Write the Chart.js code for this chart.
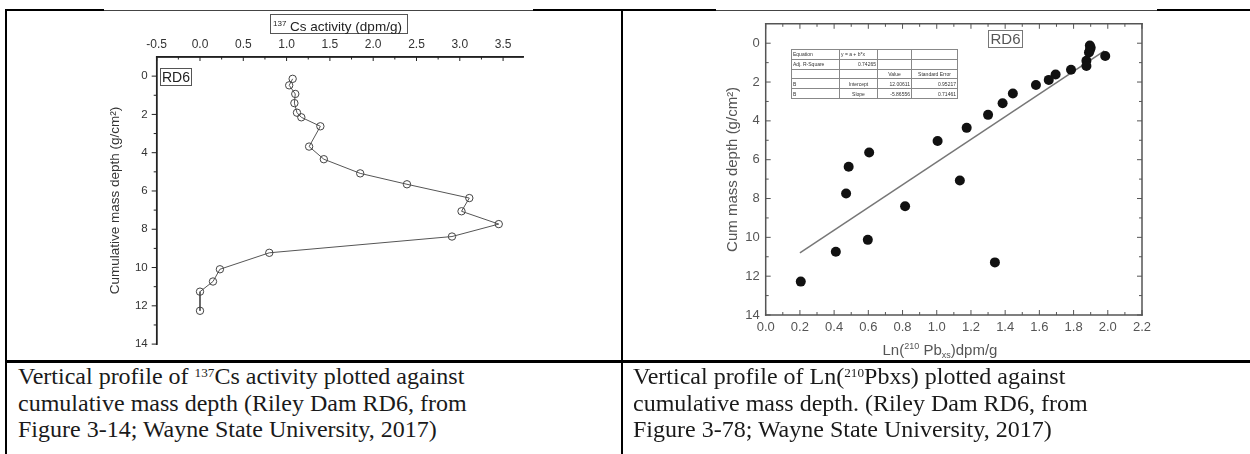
<!DOCTYPE html>
<html>
<head>
<meta charset="utf-8">
<script src="https://cdn.jsdelivr.net/npm/chart.js@4.4.0/dist/chart.umd.min.js"></script>
<style>
  body { margin:0; background:#fff; width:1250px; height:454px; overflow:hidden; position:relative; font-family:"Liberation Sans", Arial, sans-serif; }
  .ln { position:absolute; background:#000; }
  .thin { background:#444; }
  canvas { position:absolute; }
  .box { position:absolute; border:1px solid #555; box-sizing:border-box; text-align:center; white-space:nowrap; }
  .cap { position:absolute; font-family:"Liberation Serif", "Times New Roman", serif; font-size:24px; line-height:26.5px; color:#1a1a1a; white-space:nowrap; }
  .cap sup { font-size:0.55em; vertical-align:0.5em; line-height:0; }
  #fit { position:absolute; left:791px; top:49px; border-collapse:collapse; font-size:5px; color:#333; border:1px solid #555; }
  #fit td { border:0.5px solid #888; height:8.8px; padding:0 1px; line-height:8px; white-space:nowrap; }
</style>
</head>
<body>
<!-- table borders -->
<div class="ln" style="left:5px;top:9px;width:99px;height:2px"></div>
<div class="ln thin" style="left:104px;top:10px;width:429px;height:1px"></div>
<div class="ln" style="left:533px;top:9px;width:183px;height:2px"></div>
<div class="ln thin" style="left:716px;top:10px;width:441px;height:1px"></div>
<div class="ln" style="left:1157px;top:9px;width:93px;height:2px"></div>
<div class="ln" style="left:5px;top:9px;width:2px;height:445px"></div>
<div class="ln" style="left:621px;top:9px;width:2px;height:445px"></div>
<div class="ln" style="left:5px;top:360px;width:1245px;height:3px"></div>

<canvas id="cs" width="440" height="360" style="left:100px;top:0px"></canvas>
<canvas id="pb" width="460" height="345" style="left:700px;top:10px"></canvas>

<div class="box" style="left:270px;top:14px;width:138px;height:20px;font-size:13.5px;line-height:18px;color:#222;text-align:left;padding-left:2px"><sup style="font-size:8px;vertical-align:5px">137</sup> Cs activity (dpm/g)</div>
<div class="box" style="left:160px;top:68px;width:32px;height:18px;font-size:14px;line-height:16px;color:#222">RD6</div>
<div class="box" style="left:988px;top:30px;width:35px;height:18px;font-size:15px;line-height:16px;color:#555;border-color:#777">RD6</div>
<div style="position:absolute;left:840px;top:341px;width:200px;text-align:center;font-size:15px;color:#555;white-space:nowrap">Ln(<sup style="font-size:9px;vertical-align:6px">210</sup> Pb<sub style="font-size:9px;vertical-align:-3px">xs</sub>)dpm/g</div>

<table id="fit">
  <tr><td style="width:45px">Equation</td><td style="width:35px">y = a + b*x</td><td style="width:31px"></td><td style="width:43px"></td></tr>
  <tr><td>Adj. R-Square</td><td style="text-align:right">0.74265</td><td></td><td></td></tr>
  <tr><td></td><td></td><td style="text-align:center">Value</td><td style="text-align:center">Standard Error</td></tr>
  <tr><td>B</td><td style="text-align:center">Intercept</td><td style="text-align:right">12.00611</td><td style="text-align:right">0.95217</td></tr>
  <tr><td>B</td><td style="text-align:center">Slope</td><td style="text-align:right">-5.86556</td><td style="text-align:right">0.71461</td></tr>
</table>

<div class="cap" style="left:18px;top:363px">Vertical profile of <sup>137</sup>Cs activity plotted against<br> cumulative mass depth (Riley Dam RD6, from<br>Figure 3-14; Wayne State University, 2017)</div>
<div class="cap" style="left:633px;top:363px">Vertical profile of Ln(<sup>210</sup>Pbxs) plotted against<br> cumulative mass depth. (Riley Dam RD6, from<br>Figure 3-78; Wayne State University, 2017)</div>

<script>
// left chart: 137Cs activity vs cumulative mass depth
const csActivity = [1.07, 1.03, 1.10, 1.09, 1.12, 1.17, 1.39, 1.26, 1.43, 1.85, 2.39, 3.11, 3.02, 3.45, 2.91, 0.80, 0.23, 0.15, 0.00, 0.00];
const csDepth = [0.14, 0.48, 0.93, 1.41, 1.91, 2.15, 2.62, 3.68, 4.34, 5.08, 5.65, 6.37, 7.06, 7.73, 8.38, 9.23, 10.09, 10.73, 11.26, 12.26];
const csTicks = [-0.5, 0, 0.5, 1, 1.5, 2, 2.5, 3, 3.5];
const csMinor = [-0.25, 0.25, 0.75, 1.25, 1.75, 2.25, 2.75, 3.25];

// right chart: Ln(210Pbxs) vs cumulative mass depth
const lnPb = [1.895, 1.90, 1.895, 1.89, 1.985, 1.875, 1.875, 1.785, 1.695, 1.655, 1.58, 1.445, 1.385, 1.30, 1.175, 1.005, 0.605, 0.485, 1.135, 0.47, 0.815, 0.597, 0.41, 1.34, 0.205];
const pbDepth = [0.12, 0.24, 0.36, 0.48, 0.66, 0.90, 1.17, 1.37, 1.61, 1.89, 2.15, 2.59, 3.09, 3.69, 4.36, 5.04, 5.63, 6.36, 7.07, 7.74, 8.40, 10.13, 10.74, 11.29, 12.28];
const fitX = [0.2, 1.98];
const fitY = [10.8, 0.39];
const pbTicks = [0, 0.2, 0.4, 0.6, 0.8, 1.0, 1.2, 1.4, 1.6, 1.8, 2.0, 2.2];
const pbMinor = [0.1, 0.3, 0.5, 0.7, 0.9, 1.1, 1.3, 1.5, 1.7, 1.9, 2.1];

const depthTicks = [0, 2, 4, 6, 8, 10, 12, 14];
const depthMinor = [1, 3, 5, 7, 9, 11, 13];

const sans = '"Liberation Sans", Arial, sans-serif';

// Origin style tick marks and frame
const originTicks = {
  id: 'originTicks',
  afterDraw(chart, args, opts) {
    const ctx = chart.ctx, a = chart.chartArea;
    ctx.save();
    ctx.strokeStyle = opts.color;
    ctx.lineWidth = opts.width;
    ctx.lineCap = 'square';
    for (const side of opts.frame) {
      ctx.beginPath();
      if (side === 'left') { ctx.moveTo(a.left, a.top); ctx.lineTo(a.left, a.bottom); }
      if (side === 'right') { ctx.moveTo(a.right, a.top); ctx.lineTo(a.right, a.bottom); }
      if (side === 'top') { ctx.moveTo(a.left, a.top); ctx.lineTo(a.right, a.top); }
      if (side === 'bottom') { ctx.moveTo(a.left, a.bottom); ctx.lineTo(a.right, a.bottom); }
      ctx.stroke();
    }
    ctx.lineCap = 'butt';
    ctx.lineWidth = 1;
    for (const m of opts.marks) {
      const scale = chart.scales[m.axis];
      for (const v of m.values) {
        const p = scale.getPixelForValue(v);
        ctx.beginPath();
        if (m.side === 'top') { ctx.moveTo(p, a.top); ctx.lineTo(p, a.top + m.len); }
        if (m.side === 'bottom') { ctx.moveTo(p, a.bottom); ctx.lineTo(p, a.bottom - m.len); }
        if (m.side === 'left') { ctx.moveTo(a.left, p); ctx.lineTo(a.left + m.len, p); }
        if (m.side === 'right') { ctx.moveTo(a.right, p); ctx.lineTo(a.right - m.len, p); }
        ctx.stroke();
      }
    }
    ctx.restore();
  }
};

const noGrid = { display: false, drawTicks: false };

new Chart(document.getElementById('cs'), {
  type: 'scatter',
  data: {
    datasets: [{
      data: csActivity.map((x, i) => ({ x: x, y: csDepth[i] })),
      showLine: true,
      borderColor: '#555',
      borderWidth: 1,
      pointRadius: 3.7,
      pointBackgroundColor: 'rgba(0,0,0,0)',
      pointBorderColor: '#444',
      pointBorderWidth: 1
    }]
  },
  options: {
    responsive: false,
    animation: false,
    events: [],
    layout: { padding: { left: 0, top: 0, right: 17, bottom: 13 } },
    plugins: {
      legend: { display: false },
      tooltip: { enabled: false },
      originTicks: {
        color: '#222', width: 1.5, frame: ['left', 'top'],
        marks: [
          { axis: 'x', side: 'top', values: csTicks, len: 4 },
          { axis: 'x', side: 'top', values: csMinor, len: 2.5 },
          { axis: 'y', side: 'left', values: depthTicks, len: -5 },
          { axis: 'y', side: 'left', values: depthMinor, len: -3 }
        ]
      }
    },
    scales: {
      x: {
        type: 'linear', position: 'top', min: -0.5, max: 3.73,
        grid: noGrid, border: { display: true, color: '#222', width: 1.5 },
        afterBuildTicks: s => { s.ticks = csTicks.map(v => ({ value: v })); },
        afterFit: s => { s.height = 57; },
        ticks: { color: '#333', font: { family: sans, size: 12 }, padding: 5, maxRotation: 0, autoSkip: false, callback: v => v.toFixed(1) }
      },
      y: {
        type: 'linear', reverse: true, min: -1, max: 14,
        grid: noGrid, border: { display: true, color: '#222', width: 1.5 },
        afterBuildTicks: s => { s.ticks = depthTicks.map(v => ({ value: v })); },
        afterFit: s => { s.width = 56.7; },
        ticks: { color: '#333', font: { family: sans, size: 11.5 }, padding: 9, autoSkip: false },
        title: { display: true, text: 'Cumulative mass depth (g/cm²)', color: '#333', font: { family: sans, size: 13.5 }, padding: { top: 7, bottom: 0 } }
      }
    }
  },
  plugins: [originTicks]
});

new Chart(document.getElementById('pb'), {
  type: 'scatter',
  data: {
    datasets: [{
      data: lnPb.map((x, i) => ({ x: x, y: pbDepth[i] })),
      pointRadius: 5,
      pointBackgroundColor: '#111',
      pointBorderColor: '#111',
      pointBorderWidth: 0
    }, {
      data: fitX.map((x, i) => ({ x: x, y: fitY[i] })),
      showLine: true,
      pointRadius: 0,
      borderColor: '#777',
      borderWidth: 1.5
    }]
  },
  options: {
    responsive: false,
    animation: false,
    events: [],
    layout: { padding: { left: 0, top: 9.3, right: 18, bottom: 0 } },
    plugins: {
      legend: { display: false },
      tooltip: { enabled: false },
      originTicks: {
        color: '#555', width: 1.5, frame: ['left', 'top', 'right', 'bottom'],
        marks: [
          { axis: 'x', side: 'bottom', values: pbTicks, len: 5 },
          { axis: 'x', side: 'bottom', values: pbMinor, len: 3 },
          { axis: 'x', side: 'top', values: pbTicks, len: 5 },
          { axis: 'x', side: 'top', values: pbMinor, len: 3 },
          { axis: 'y', side: 'left', values: depthTicks, len: 5 },
          { axis: 'y', side: 'left', values: depthMinor, len: 3 },
          { axis: 'y', side: 'right', values: depthTicks, len: 5 },
          { axis: 'y', side: 'right', values: depthMinor, len: 3 }
        ]
      }
    },
    scales: {
      x: {
        type: 'linear', position: 'bottom', min: 0, max: 2.2,
        grid: noGrid, border: { display: false },
        afterBuildTicks: s => { s.ticks = pbTicks.map(v => ({ value: v })); },
        afterFit: s => { s.height = 40; },
        ticks: { color: '#555', font: { family: sans, size: 13 }, padding: 5, maxRotation: 0, autoSkip: false, callback: v => v.toFixed(1) }
      },
      y: {
        type: 'linear', reverse: true, min: -1, max: 14,
        grid: noGrid, border: { display: false },
        afterBuildTicks: s => { s.ticks = depthTicks.map(v => ({ value: v })); },
        afterFit: s => { s.width = 65.7; },
        ticks: { color: '#555', font: { family: sans, size: 13 }, padding: 6, autoSkip: false },
        title: { display: true, text: 'Cum mass depth (g/cm²)', color: '#555', font: { family: sans, size: 15 }, padding: { top: 24, bottom: 0 } }
      }
    }
  },
  plugins: [originTicks]
});
</script>
</body>
</html>
